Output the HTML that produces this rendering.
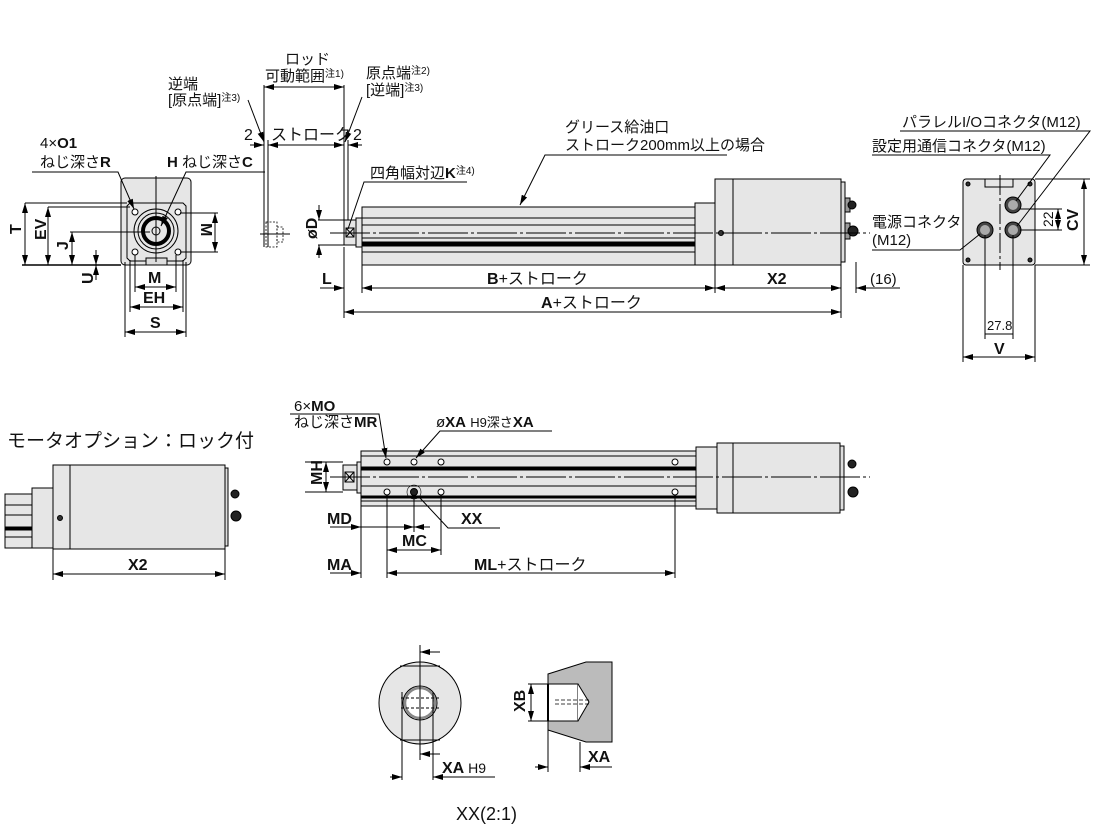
<!DOCTYPE html>
<html><head><meta charset="utf-8"><style>
html,body{margin:0;padding:0;background:#fff}
svg{display:block}
text{font-family:"Liberation Sans","Noto Sans CJK JP",sans-serif;fill:#111}
.b{font-weight:bold}
</style></head><body>
<svg width="1101" height="837" viewBox="0 0 1101 837" xmlns="http://www.w3.org/2000/svg">
<defs>
<marker id="a" viewBox="0 0 10 6" refX="10" refY="3" markerWidth="10" markerHeight="6" orient="auto-start-reverse" markerUnits="userSpaceOnUse"><path d="M0,0 L10,3 L0,6z" fill="#000"/></marker>
</defs>
<g stroke="#000" stroke-width="1" fill="none">

<!-- ===== Left end view ===== -->
<rect x="121" y="178" width="70" height="87" rx="4" fill="#e6e6e6"/>
<path d="M130,203 H183 L186,206 V258 L183,261 H130 L127,258 V206 Z" fill="#e6e6e6"/>
<circle cx="156" cy="231" r="22"/>
<circle cx="156" cy="231" r="18"/>
<circle cx="156" cy="231" r="13" stroke-width="4"/>
<circle cx="156" cy="231" r="4"/>
<rect x="146" y="258" width="21" height="7" fill="#ddd"/>
<g fill="#fff"><circle cx="135" cy="212" r="3"/><circle cx="178" cy="212" r="3"/><circle cx="135" cy="252" r="3"/><circle cx="178" cy="252" r="3"/></g>
<line x1="156" y1="176" x2="156" y2="262"/>
<line x1="25" y1="203" x2="127" y2="203"/>
<line x1="48" y1="207" x2="130" y2="207"/>
<line x1="70" y1="232" x2="150" y2="232"/>
<line x1="22" y1="265" x2="121" y2="265" stroke-width="1.5"/>
<line x1="25" y1="203" x2="25" y2="265" marker-start="url(#a)" marker-end="url(#a)"/>
<line x1="48" y1="207" x2="48" y2="265" marker-start="url(#a)" marker-end="url(#a)"/>
<line x1="72" y1="232" x2="72" y2="265" marker-start="url(#a)" marker-end="url(#a)"/>
<line x1="96" y1="250" x2="96" y2="265" marker-end="url(#a)"/>
<line x1="96" y1="280" x2="96" y2="265" marker-end="url(#a)"/>
<line x1="180" y1="213" x2="218" y2="213"/>
<line x1="180" y1="252" x2="218" y2="252"/>
<line x1="215" y1="213" x2="215" y2="252" marker-start="url(#a)" marker-end="url(#a)"/>
<line x1="135" y1="255" x2="135" y2="292"/>
<line x1="176" y1="255" x2="176" y2="292"/>
<line x1="130" y1="260" x2="130" y2="312"/>
<line x1="183" y1="260" x2="183" y2="312"/>
<line x1="125" y1="262" x2="125" y2="337"/>
<line x1="186" y1="262" x2="186" y2="337"/>
<line x1="135" y1="287" x2="176" y2="287" marker-start="url(#a)" marker-end="url(#a)"/>
<line x1="130" y1="307" x2="183" y2="307" marker-start="url(#a)" marker-end="url(#a)"/>
<line x1="125" y1="332" x2="186" y2="332" marker-start="url(#a)" marker-end="url(#a)"/>
<polyline points="32,172 118,172 134,209" marker-end="url(#a)"/>
<polyline points="265,172 186,172 161,226" marker-end="url(#a)"/>

<!-- ===== Rod range ===== -->
<line x1="264" y1="85" x2="264" y2="247"/>
<line x1="268" y1="140" x2="268" y2="247"/>
<line x1="344" y1="85" x2="344" y2="222"/>
<line x1="348" y1="140" x2="348" y2="222"/>
<line x1="264" y1="87" x2="344" y2="87" marker-start="url(#a)" marker-end="url(#a)"/>
<line x1="250" y1="145" x2="264" y2="145" marker-end="url(#a)"/>
<line x1="268" y1="145" x2="344" y2="145" marker-start="url(#a)" marker-end="url(#a)"/>
<line x1="362" y1="145" x2="348" y2="145" marker-end="url(#a)"/>
<line x1="248" y1="100" x2="264" y2="142" marker-end="url(#a)"/>
<line x1="362" y1="97" x2="345" y2="142" marker-end="url(#a)"/>
<g stroke-dasharray="2,1.5" stroke-width="0.8"><rect x="266" y="222" width="11" height="25"/><rect x="277" y="227" width="6" height="15"/></g>
<line x1="260" y1="234" x2="290" y2="234"/>

<!-- ===== Main side view ===== -->
<line x1="318" y1="220" x2="362" y2="220"/>
<line x1="318" y1="245" x2="362" y2="245"/>
<line x1="319" y1="205" x2="319" y2="220" marker-end="url(#a)"/>
<line x1="319" y1="258" x2="319" y2="245" marker-end="url(#a)"/>
<rect x="344" y="220" width="12" height="25" fill="#e6e6e6"/>
<rect x="356" y="218" width="6" height="29" fill="#e6e6e6"/>
<rect x="346" y="228" width="8" height="9"/>
<line x1="346" y1="228" x2="354" y2="237"/><line x1="354" y1="228" x2="346" y2="237"/>
<rect x="362" y="207" width="333" height="58" fill="#e6e6e6"/>
<line x1="362" y1="218" x2="695" y2="218"/>
<line x1="362" y1="225" x2="695" y2="225"/>
<line x1="362" y1="238" x2="695" y2="238"/>
<rect x="362" y="242" width="333" height="4" fill="#000"/>
<line x1="362" y1="252" x2="695" y2="252"/>
<rect x="695" y="203" width="20" height="62" fill="#e6e6e6"/>
<rect x="715" y="179" width="126" height="86" fill="#e6e6e6"/>
<line x1="733" y1="179" x2="733" y2="265"/>
<circle cx="721" cy="233" r="2.5" fill="#333"/>
<rect x="841" y="182" width="4" height="80" fill="#ddd"/>
<rect x="845" y="198" width="5" height="14" fill="#999"/><circle cx="852" cy="205" r="4" fill="#222"/>
<rect x="845" y="223" width="5" height="16" fill="#999"/><circle cx="853" cy="231" r="5" fill="#222"/>
<line x1="330" y1="233" x2="870" y2="233" stroke-dasharray="40,3,3,3"/>
<polyline points="727,155 545,155 520,205" marker-end="url(#a)"/>
<polyline points="467,182 364,182 348,229"/>
<line x1="344" y1="247" x2="344" y2="318"/>
<line x1="362" y1="265" x2="362" y2="293"/>
<line x1="715" y1="265" x2="715" y2="293"/>
<line x1="841" y1="265" x2="841" y2="318"/>
<line x1="856" y1="262" x2="856" y2="293"/>
<line x1="320" y1="288" x2="344" y2="288" marker-end="url(#a)"/>
<line x1="362" y1="288" x2="715" y2="288" marker-start="url(#a)" marker-end="url(#a)"/>
<line x1="715" y1="288" x2="841" y2="288" marker-start="url(#a)" marker-end="url(#a)"/>
<line x1="900" y1="288" x2="856" y2="288" marker-end="url(#a)"/>
<line x1="344" y1="312" x2="841" y2="312" marker-start="url(#a)" marker-end="url(#a)"/>

<!-- ===== Right end view ===== -->
<rect x="963" y="179" width="72" height="86" rx="3" fill="#e6e6e6"/>
<rect x="985" y="179" width="28" height="8" fill="#e6e6e6"/>
<line x1="1000" y1="175" x2="1000" y2="270" stroke-dasharray="20,3,3,3"/>
<g fill="#333"><circle cx="968" cy="184" r="2"/><circle cx="1030" cy="184" r="2"/><circle cx="968" cy="260" r="2"/><circle cx="1030" cy="260" r="2"/></g>
<g fill="#444"><circle cx="1013" cy="205" r="8"/><circle cx="1013" cy="230" r="8"/><circle cx="985" cy="230" r="8"/></g>
<g fill="#aaa" stroke="none"><circle cx="1013" cy="205" r="5"/><circle cx="1013" cy="230" r="5"/><circle cx="985" cy="230" r="5"/></g>
<line x1="1035" y1="179" x2="1090" y2="179"/>
<line x1="1035" y1="265" x2="1090" y2="265"/>
<line x1="1084" y1="179" x2="1084" y2="265" marker-start="url(#a)" marker-end="url(#a)"/>
<line x1="1020" y1="209" x2="1062" y2="209"/>
<line x1="1020" y1="230" x2="1062" y2="230"/>
<line x1="1058" y1="209" x2="1058" y2="230" marker-start="url(#a)" marker-end="url(#a)"/>
<line x1="985" y1="235" x2="985" y2="339"/>
<line x1="1013" y1="235" x2="1013" y2="339"/>
<line x1="963" y1="265" x2="963" y2="362"/>
<line x1="1035" y1="265" x2="1035" y2="362"/>
<line x1="985" y1="334" x2="1013" y2="334"/>
<line x1="963" y1="357" x2="1035" y2="357" marker-start="url(#a)" marker-end="url(#a)"/>
<polyline points="900,131 1090,131 1017,226"/>
<polyline points="872,155 1050,155 1016,201"/>
<polyline points="872,250 960,250 980,234"/>

<!-- ===== Lock option ===== -->
<rect x="5" y="494" width="27" height="54" fill="#e6e6e6"/>
<line x1="5" y1="505" x2="32" y2="505"/><line x1="5" y1="515" x2="32" y2="515"/><line x1="5" y1="537" x2="32" y2="537"/>
<rect x="5" y="527" width="27" height="3" fill="#000"/>
<rect x="32" y="488" width="21" height="60" fill="#e6e6e6"/>
<rect x="53" y="465" width="172" height="84" fill="#e6e6e6"/>
<line x1="70" y1="465" x2="70" y2="549"/>
<circle cx="60" cy="518" r="2.5" fill="#333"/>
<rect x="225" y="468" width="3" height="78" fill="#ddd"/>
<circle cx="235" cy="494" r="4" fill="#222"/><circle cx="236" cy="516" r="5" fill="#222"/>
<line x1="53" y1="549" x2="53" y2="580"/><line x1="225" y1="549" x2="225" y2="580"/>
<line x1="53" y1="574" x2="225" y2="574" marker-start="url(#a)" marker-end="url(#a)"/>

<!-- ===== Bottom side view ===== -->
<rect x="343" y="465" width="14" height="25" fill="#e6e6e6"/>
<rect x="357" y="462" width="4" height="31" fill="#e6e6e6"/>
<rect x="345" y="472" width="9" height="10"/>
<line x1="345" y1="472" x2="354" y2="482"/><line x1="354" y1="472" x2="345" y2="482"/>
<rect x="361" y="451" width="335" height="55" fill="#e6e6e6"/>
<rect x="361" y="467" width="335" height="3" fill="#000"/>
<rect x="361" y="496" width="335" height="2" fill="#000"/>
<line x1="361" y1="456" x2="696" y2="456"/>
<line x1="361" y1="486" x2="696" y2="486"/>
<line x1="361" y1="501" x2="696" y2="501"/>
<rect x="696" y="447" width="21" height="62" fill="#e6e6e6"/>
<rect x="717" y="443" width="123" height="70" fill="#e6e6e6"/>
<line x1="733" y1="443" x2="733" y2="513"/>
<rect x="840" y="446" width="4" height="64" fill="#ddd"/>
<circle cx="852" cy="464" r="4" fill="#222"/><circle cx="853" cy="492" r="5" fill="#222"/>
<g fill="#fff"><circle cx="387" cy="462" r="3"/><circle cx="414" cy="462" r="3"/><circle cx="441" cy="462" r="3"/><circle cx="675" cy="462" r="3"/><circle cx="387" cy="492" r="3"/><circle cx="441" cy="492" r="3"/><circle cx="675" cy="492" r="3"/></g>
<circle cx="414" cy="492" r="3.5" fill="#222"/>
<circle cx="414" cy="492" r="7" stroke-width="0.6"/>
<line x1="330" y1="477" x2="870" y2="477" stroke-dasharray="40,3,3,3"/>
<line x1="305" y1="462" x2="343" y2="462"/><line x1="305" y1="492" x2="343" y2="492"/>
<line x1="326" y1="462" x2="326" y2="492" marker-start="url(#a)" marker-end="url(#a)"/>
<polyline points="290,414 379,414 386,458" marker-end="url(#a)"/>
<polyline points="552,431 440,431 416,458" marker-end="url(#a)"/>
<polyline points="500,528 448,528 420,498"/>
<line x1="361" y1="506" x2="361" y2="578"/>
<line x1="387" y1="495" x2="387" y2="578"/>
<line x1="414" y1="496" x2="414" y2="532"/>
<line x1="441" y1="495" x2="441" y2="555"/>
<line x1="675" y1="495" x2="675" y2="578"/>
<line x1="330" y1="527" x2="361" y2="527" marker-end="url(#a)"/>
<line x1="361" y1="527" x2="414" y2="527" marker-end="url(#a)"/>
<line x1="430" y1="527" x2="414" y2="527" marker-end="url(#a)"/>
<line x1="387" y1="550" x2="441" y2="550" marker-start="url(#a)" marker-end="url(#a)"/>
<line x1="330" y1="573" x2="361" y2="573" marker-end="url(#a)"/>
<line x1="387" y1="573" x2="675" y2="573" marker-start="url(#a)" marker-end="url(#a)"/>

<!-- ===== XX detail ===== -->
<circle cx="420" cy="703" r="41" fill="#e6e6e6"/>
<line x1="400" y1="666" x2="440" y2="666"/>
<line x1="400" y1="740" x2="440" y2="740"/>
<circle cx="420" cy="703" r="17" fill="#fff"/>
<circle cx="420" cy="703" r="15" stroke-width="2.5" stroke="#888"/>
<line x1="401" y1="698" x2="439" y2="698" stroke-dasharray="3,2"/>
<line x1="401" y1="708" x2="439" y2="708" stroke-dasharray="3,2"/>
<line x1="402" y1="692" x2="402" y2="780"/>
<line x1="433" y1="692" x2="433" y2="780"/>
<line x1="420" y1="645" x2="420" y2="760"/>
<line x1="440" y1="652" x2="420" y2="652" marker-end="url(#a)"/>
<line x1="440" y1="754" x2="420" y2="754" marker-end="url(#a)"/>
<line x1="390" y1="777" x2="402" y2="777" marker-end="url(#a)"/>
<line x1="495" y1="777" x2="433" y2="777" marker-end="url(#a)"/>
<path d="M548,674 L586,662 H612 V742 H586 L548,730 Z" fill="#bbb"/>
<rect x="548" y="684" width="30" height="37" fill="#fff"/>
<line x1="548" y1="684" x2="548" y2="721" stroke-width="2"/>
<path d="M578,684 L589,702 L578,721" fill="#fff"/>
<line x1="555" y1="700" x2="590" y2="700" stroke-dasharray="4,2" stroke-width="0.7"/>
<line x1="555" y1="704" x2="590" y2="704" stroke-dasharray="4,2" stroke-width="0.7"/>
<line x1="528" y1="684" x2="548" y2="684"/><line x1="528" y1="721" x2="548" y2="721"/>
<line x1="531" y1="684" x2="531" y2="721" marker-start="url(#a)" marker-end="url(#a)"/>
<line x1="548" y1="721" x2="548" y2="772"/>
<line x1="580" y1="742" x2="580" y2="772"/>
<line x1="535" y1="767" x2="548" y2="767" marker-end="url(#a)"/>
<line x1="612" y1="767" x2="580" y2="767" marker-end="url(#a)"/>
</g>

<!-- ===== Text ===== -->
<g font-size="15">
<text x="40" y="148">4×<tspan class="b">O1</tspan></text>
<text x="40" y="167">ねじ深さ<tspan class="b">R</tspan></text>
<text x="167" y="167"><tspan class="b">H</tspan> ねじ深さ<tspan class="b">C</tspan></text>
<text x="148" y="283" class="b" font-size="16">M</text>
<text x="143" y="303" class="b" font-size="16">EH</text>
<text x="150" y="328" class="b" font-size="16">S</text>
<text x="195" y="237" class="b" font-size="16" transform="rotate(90 205 233)">M</text>
<text x="15" y="240" class="b" font-size="16" transform="rotate(-90 15 234)">T</text>
<text x="32" y="242" class="b" font-size="16" transform="rotate(-90 38 234)">EV</text>
<text x="60" y="250" class="b" font-size="16" transform="rotate(-90 64 246)">J</text>
<text x="84" y="285" class="b" font-size="16" transform="rotate(-90 88 280)">U</text>
<text x="285" y="64">ロッド</text>
<text x="265" y="81">可動範囲<tspan font-size="10" dy="-4">注1)</tspan></text>
<text x="168" y="89">逆端</text>
<text x="168" y="105">[原点端]<tspan font-size="10" dy="-4">注3)</tspan></text>
<text x="366" y="78">原点端<tspan font-size="10" dy="-4">注2)</tspan></text>
<text x="366" y="95">[逆端]<tspan font-size="10" dy="-4">注3)</tspan></text>
<text x="244" y="140" font-size="16">2</text>
<text x="271" y="140" font-size="16">ストローク</text>
<text x="353" y="140" font-size="16">2</text>
<text x="370" y="178">四角幅対辺<tspan class="b">K</tspan><tspan font-size="10" dy="-4">注4)</tspan></text>
<text x="565" y="132">グリース給油口</text>
<text x="565" y="150">ストローク200mm以上の場合</text>
<text x="304" y="240" class="b" font-size="16" transform="rotate(-90 310 233)">øD</text>
<text x="322" y="284" class="b" font-size="16">L</text>
<text x="487" y="284" font-size="16"><tspan class="b">B</tspan>+ストローク</text>
<text x="767" y="284" class="b" font-size="16">X2</text>
<text x="870" y="284">(16)</text>
<text x="541" y="308" font-size="16"><tspan class="b">A</tspan>+ストローク</text>
<text x="902" y="127">パラレルI/Oコネクタ(M12)</text>
<text x="872" y="151">設定用通信コネクタ(M12)</text>
<text x="872" y="227">電源コネクタ</text>
<text x="872" y="245">(M12)</text>
<text x="1041" y="225" font-size="14" transform="rotate(-90 1048 220)">22</text>
<text x="1063" y="228" class="b" font-size="16" transform="rotate(-90 1072 222)">CV</text>
<text x="987" y="330" font-size="13">27.8</text>
<text x="994" y="354" class="b" font-size="16">V</text>
<text x="7" y="447" font-size="19">モータオプション：ロック付</text>
<text x="128" y="570" class="b" font-size="16">X2</text>
<text x="294" y="411">6×<tspan class="b">MO</tspan></text>
<text x="294" y="427">ねじ深さ<tspan class="b">MR</tspan></text>
<text x="436" y="427">ø<tspan class="b">XA</tspan> <tspan font-size="13">H9深さ</tspan><tspan class="b">XA</tspan></text>
<text x="305" y="486" class="b" font-size="16" transform="rotate(-90 313 477)">MH</text>
<text x="327" y="524" class="b" font-size="16">MD</text>
<text x="461" y="524" class="b" font-size="16">XX</text>
<text x="402" y="546" class="b" font-size="16">MC</text>
<text x="327" y="570" class="b" font-size="16">MA</text>
<text x="474" y="570" font-size="16"><tspan class="b">ML</tspan>+ストローク</text>
<text x="442" y="773" class="b" font-size="16">XA <tspan font-weight="normal" font-size="14">H9</tspan></text>
<text x="588" y="762" class="b" font-size="16">XA</text>
<text x="507" y="712" class="b" font-size="16" transform="rotate(-90 516 703)">XB</text>
<text x="456" y="820" font-size="18">XX(2:1)</text>
</g>
</svg>
</body></html>
